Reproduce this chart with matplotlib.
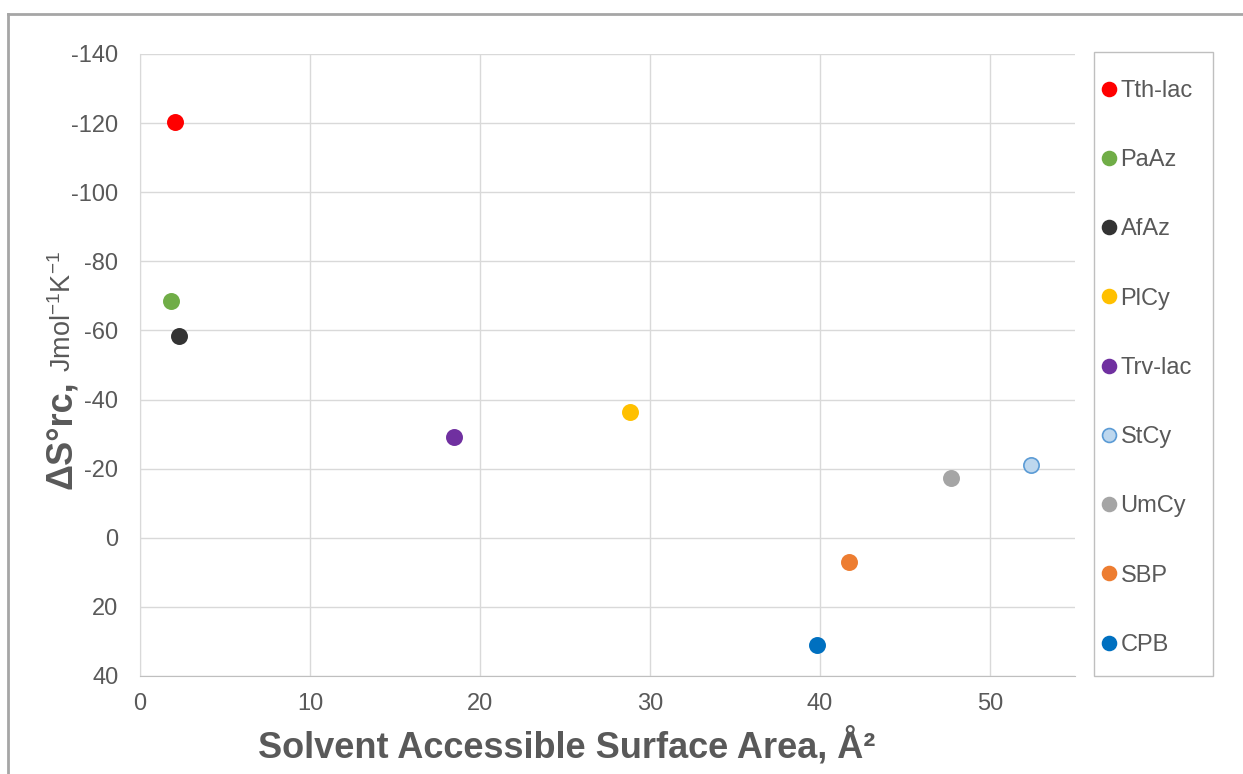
import matplotlib.pyplot as plt
from matplotlib.lines import Line2D
from matplotlib.patches import Rectangle

plt.rcParams['font.family'] = ['Liberation Sans', 'DejaVu Sans']
plt.rcParams['axes.unicode_minus'] = False

# data
names = ["Tth-lac", "PaAz", "AfAz", "PlCy", "Trv-lac", "StCy", "UmCy", "SBP", "CPB"]
sasa = [2.05, 1.85, 2.3, 28.8, 18.5, 52.4, 47.7, 41.7, 39.8]
dS = [-120.3, -68.4, -58.3, -36.3, -29.1, -21.1, -17.2, 6.9, 31.0]
fills = ["#FF0000", "#70AD47", "#333333", "#FFC000", "#7030A0",
         "#BDD7EE", "#A5A5A5", "#ED7D31", "#0070C0"]
edges = ["#FF0000", "#70AD47", "#333333", "#FFC000", "#7030A0",
         "#5B9BD5", "#A5A5A5", "#ED7D31", "#0070C0"]
xticks = [0, 10, 20, 30, 40, 50]
yticks = [-140, -120, -100, -80, -60, -40, -20, 0, 20, 40]

txt = "#595959"
W, H = 1243, 774

fig = plt.figure(figsize=(W / 100, H / 100), dpi=100)
ax = fig.add_axes([140 / W, 1 - 676 / H, 935 / W, 622 / H])

for x, y, fc, ec, n in zip(sasa, dS, fills, edges, names):
    ax.plot(x, y, 'o', ms=11, mfc=fc, mec=ec, mew=1.2, label=n, zorder=3,
            clip_on=False)

ax.set_xlim(0, 55)
ax.set_ylim(40, -140)
ax.set_xticks(xticks)
ax.set_yticks(yticks)
ax.grid(True, color="#D9D9D9", lw=1.0)
ax.set_axisbelow(True)
for s in ["top", "right"]:
    ax.spines[s].set_visible(False)
ax.spines["left"].set_color("#D9D9D9")
ax.spines["bottom"].set_color("#BFBFBF")
ax.tick_params(axis="y", length=0, pad=15.5, labelsize=17, labelcolor=txt)
ax.tick_params(axis="x", length=0, pad=12, labelsize=17, labelcolor=txt)

ax.set_xlabel("Solvent Accessible Surface Area, Å²", fontsize=26,
              fontweight="bold", color=txt)
ax.xaxis.set_label_coords((567 - 140) / 935, -0.082)

# two-part y label (bold big part + normal units)
fig.text(62 / W, 1 - 435 / H, "ΔS°rc,", rotation=90, fontsize=26,
         fontweight="bold", color=txt, ha="center", va="center")
fig.text(63 / W, 1 - 311 / H, "Jmol$^{\\mathregular{-1}}$K$^{\\mathregular{-1}}$",
         rotation=90, fontsize=19.5, color=txt, ha="center", va="center")

# legend: frame drawn separately so its size matches the reference
fig.add_artist(Rectangle((1094 / W, 1 - 676 / H), 119 / W, 624 / H,
                         transform=fig.transFigure, fill=False,
                         edgecolor="#BFBFBF", lw=1.0))
handles = [Line2D([], [], ls="none", marker="o", ms=10, mfc=fc, mec=ec, mew=1.2)
           for fc, ec in zip(fills, edges)]
leg = fig.legend(handles, names, loc="upper left",
                 bbox_to_anchor=(1097 / W, 1 - 80 / H),
                 frameon=False, fontsize=17,
                 labelspacing=2.0, handletextpad=0.0, handlelength=1.0,
                 borderpad=0, borderaxespad=0)
for t in leg.get_texts():
    t.set_color(txt)

# outer chart border (top and left visible)
fig.add_artist(Line2D([8 / W, 1], [1 - 14 / H, 1 - 14 / H],
                      color="#A6A6A6", lw=2))
fig.add_artist(Line2D([8 / W, 8 / W], [0, 1 - 14 / H],
                      color="#A6A6A6", lw=2))

fig.savefig("out.png", dpi=100)
